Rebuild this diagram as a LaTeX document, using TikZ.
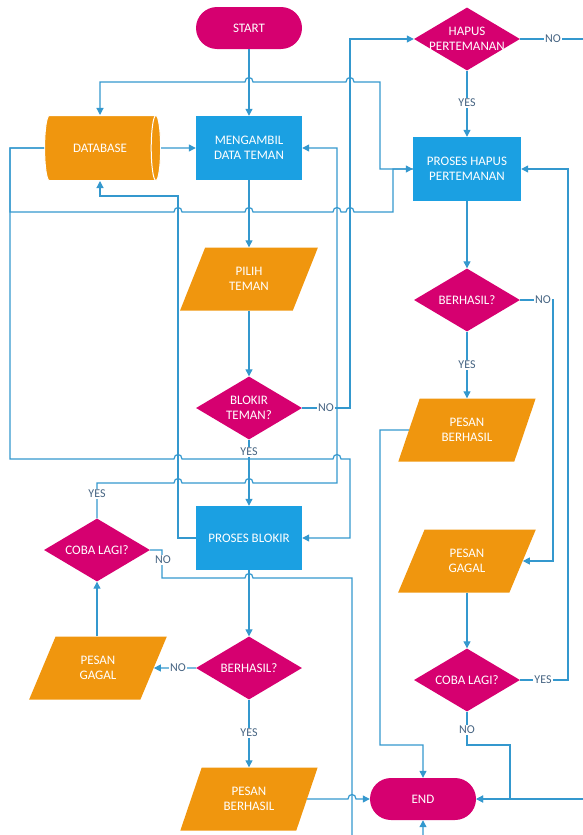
\documentclass[tikz,border=0pt]{standalone}
\usepackage{fontspec}
\setmainfont{Carlito}
\usetikzlibrary{shapes.geometric,arrows.meta,calc}
\definecolor{mag}{RGB}{214,0,112}
\definecolor{org}{RGB}{240,150,14}
\definecolor{blu}{RGB}{27,160,226}
\definecolor{lnc}{RGB}{52,152,206}
\definecolor{lbc}{RGB}{70,100,130}
\begin{document}
\begin{tikzpicture}[x=1pt,y=-1pt,
 txt/.style={text=white,font=\fontsize{13}{15}\selectfont,align=center},
 term/.style={txt,fill=mag,rounded corners=21pt,minimum width=106pt,minimum height=42pt,inner sep=0pt},
 proc/.style={txt,fill=blu,minimum width=106pt,minimum height=64pt,inner sep=0pt},
 dec/.style={txt,fill=mag,diamond,aspect=1.7,inner xsep=-10pt,inner ysep=-4pt,minimum width=106pt,minimum height=63pt},
 io/.style={txt,fill=org,trapezium,trapezium left angle=64,trapezium right angle=116,trapezium stretches=true,minimum width=138pt,minimum height=63pt,inner sep=0pt},
 store/.style={txt,fill=org,draw=white,line width=1pt,cylinder,aspect=1.1,minimum width=65pt,minimum height=116pt,inner sep=0pt},
 ln/.style={draw=lnc,line width=1.2pt},
 arr/.style={ln,-{Triangle[length=7pt,width=7pt]}},
 lbl/.style={text=lbc,font=\fontsize{12}{14}\selectfont,fill=white,inner sep=1pt},
 jr/.style 2 args={insert path={-- (#1-4,#2) .. controls (#1-4,#2-6) and (#1+4,#2-6) .. (#1+4,#2)}},
 jl/.style 2 args={insert path={-- (#1+4,#2) .. controls (#1+4,#2-6) and (#1-4,#2-6) .. (#1-4,#2)}}]
\useasboundingbox (0,0) rectangle (583,835);
\clip (0,0) rectangle (583,835);
% nodes
\node[term] (start) at (249,28) {START};
\node[store] (db) at (100,148) {DATABASE};
\node[proc] (get) at (249,148) {MENGAMBIL\\DATA TEMAN};
\node[io] (pilih) at (249,279) {PILIH\\TEMAN};
\node[dec] (blokir) at (249,408) {BLOKIR\\TEMAN?};
\node[proc] (pblok) at (249,538) {PROSES BLOKIR};
\node[dec] (cobaL) at (97,550) {COBA LAGI?};
\node[dec] (berL) at (249,668) {BERHASIL?};
\node[io] (gagalL) at (98,668) {PESAN\\GAGAL};
\node[io] (pberL) at (249,799) {PESAN\\BERHASIL};
\node[dec] (hapus) at (467,39) {HAPUS\\PERTEMANAN};
\node[proc,minimum width=108pt] (phapus) at (467,169) {PROSES HAPUS\\PERTEMANAN};
\node[dec] (berR) at (467,300) {BERHASIL?};
\node[io] (pberR) at (467,430) {PESAN\\BERHASIL};
\node[io] (gagalR) at (467,561) {PESAN\\GAGAL};
\node[dec] (cobaR) at (467,680) {COBA LAGI?};
\node[term] (end) at (423,799) {END};
% connectors
\draw[arr] (start.south) -- (start.south |- get.north);
\draw[arr] (phapus.west) -- (380,169) -- (380,82) [jl={350}{82}] [jl={249}{82}] -| (db.north);
\draw[arr] (db.west) -| (10,212) [jr={178}{212}] [jr={249}{212}] [jr={337}{212}] [jr={350}{212}] -- (393,212) |- (phapus.west);
\draw[arr] (db.west) -| (10,459) [jr={178}{459}] [jr={337}{459}] -- (350,459) |- (pblok.east);
\draw[arr] (pblok.west) -- (178,538) -- (178,196) -| (db.south);
\draw[arr] (db.east) -- (get.west);
\draw[arr] (get.south) -- (get.south |- pilih.north);
\draw[arr] (blokir.north |- pilih.south) -- (blokir.north);
\draw[arr] (blokir.south) -- (pblok.north);
\draw[arr] (blokir.east) -- (350,408) |- (hapus.west);
\draw[arr] (cobaL.north) -- (97,483) [jr={178}{483}] [jr={249}{483}] -- (337,483) |- (get.east);
\draw[arr] (cobaL.east) -- (162,550) -- (162,578) [jr={249}{578}] -- (352,578) -- (352,850) -| (end.south);
\draw[arr] (pblok.south) -- (berL.north);
\draw[arr] (berL.west) -- (gagalL.east);
\draw[arr] (berL.south) -- (berL.south |- pberL.north);
\draw[arr] (cobaL.south |- gagalL.north) -- (cobaL.south);
\draw[arr] (pberL.east) [jr={352}{799}] -- (end.west);
\draw[arr] (hapus.east) -- (600,39) -- (600,799) -- (end.east);
\draw[arr] (hapus.south) -- (phapus.north);
\draw[arr] (phapus.south) -- (berR.north);
\draw[arr] (berR.south) -- (berR.south |- pberR.north);
\draw[arr] (berR.east) -- (553,300) |- (gagalR.east);
\draw[arr] (cobaR.north |- gagalR.south) -- (cobaR.north);
\draw[arr] (cobaR.east) -- (568,680) |- (phapus.east);
\draw[arr] (cobaR.south) -- (467,745) -- (510,745) |- (end.east);
\draw[arr] (pberR.west) -- (380,430) -- (380,745) -| (end.north);
% labels
\node[lbl] (l1) at (249,452) {YES};
\node[lbl] (l2) at (326,408) {NO};
\node[lbl] (l3) at (97,494) {YES};
\node[lbl] (l4) at (163,560) {NO};
\node[lbl] (l5) at (178,668) {NO};
\node[lbl] (l6) at (249,733) {YES};
\node[lbl] (l7) at (553,39) {NO};
\node[lbl] (l8) at (467,103) {YES};
\node[lbl] (l9) at (467,365) {YES};
\node[lbl] (l10) at (543,300) {NO};
\node[lbl] (l11) at (543,680) {YES};
\node[lbl] (l12) at (467,730) {NO};
\end{tikzpicture}
\end{document}
